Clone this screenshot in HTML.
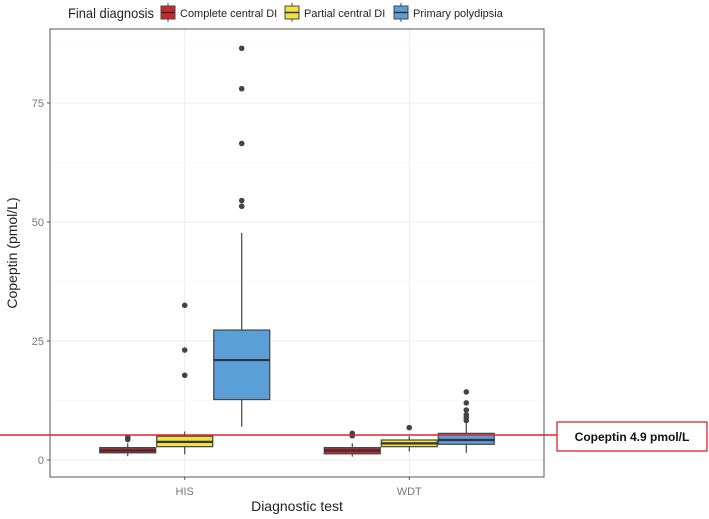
<!DOCTYPE html>
<html><head><meta charset="utf-8"><style>
body{margin:0;background:#fff;width:709px;height:514px;overflow:hidden;font-family:"Liberation Sans",sans-serif}
</style></head><body>
<svg id="c" width="709" height="514" xmlns="http://www.w3.org/2000/svg"></svg>
<script>
const categories=["HIS","WDT"];
const groups=["Complete central DI","Partial central DI","Primary polydipsia"];
const colors=["#c8262b","#efe23a","#5a9fd8"];
const yTicks=[0,25,50,75];
// [low whisker, q1, median, q3, high whisker] per category per group
const hisStats=[[0.8,1.5,2.0,2.6,3.5],[1.2,2.8,3.8,5.0,6.0],[7.0,12.7,21.0,27.3,47.7]];
const wdtStats=[[0.7,1.3,2.0,2.6,3.5],[1.8,2.8,3.5,4.2,5.0],[1.5,3.3,4.2,5.6,7.8]];
const hisOutliers=[[4.3,4.7],[17.8,23.1,32.5],[53.3,54.5,66.5,78,86.5]];
const wdtOutliers=[[5.1,5.6],[6.8],[8.3,8.9,9.5,10.5,12,14.3]];
const stats=[hisStats,wdtStats];
const outliers=[hisOutliers,wdtOutliers];

const NS="http://www.w3.org/2000/svg";
const svg=document.getElementById('c');
const L=50,R=544,T=29,B=477;
const y=v=>460-v*(119/25);
const x=i=>L+(i+1-0.4)*(R-L)/2.2;
const dodge=57,bw=56;
function mk(t,a,p){const e=document.createElementNS(NS,t);for(const k in a)e.setAttribute(k,a[k]);(p||svg).appendChild(e);return e;}

// grid
for(let i=0;i<yTicks.length;i++){
  const g=mk('line',{x1:L,x2:R,y1:y(yTicks[i]),y2:y(yTicks[i]),stroke:'#ebebeb','stroke-width':1});
  
  
  const m=mk('line',{x1:L,x2:R,y1:y(yTicks[i]+12.5),y2:y(yTicks[i]+12.5),stroke:'#f4f4f4','stroke-width':0.6});
  
  
}
categories.forEach((c,i)=>{
  const g=mk('line',{x1:x(i),x2:x(i),y1:T,y2:B,stroke:'#ebebeb','stroke-width':1});
  
  
});

// boxes
categories.forEach((c,i)=>{
  groups.forEach((gname,j)=>{
    const s=stats[i][j];const cx=x(i)+(j-1)*dodge;
    const g=mk('g',{});
    
    
    mk('line',{x1:cx,x2:cx,y1:y(s[0]),y2:y(s[1]),stroke:'#444','stroke-width':1.2},g);
    mk('line',{x1:cx,x2:cx,y1:y(s[3]),y2:y(s[4]),stroke:'#444','stroke-width':1.2},g);
    mk('rect',{x:cx-bw/2,y:y(s[3]),width:bw,height:y(s[1])-y(s[3]),fill:colors[j],stroke:'#444','stroke-width':1.2},g);
    mk('line',{x1:cx-bw/2,x2:cx+bw/2,y1:y(s[2]),y2:y(s[2]),stroke:'#333','stroke-width':2.2},g);
    outliers[i][j].forEach(v=>{
      const p=mk('circle',{cx:cx,cy:y(v),r:2.8,fill:'#444'},g);
      
      
    });
  });
});

// panel border
const pb=mk('rect',{x:L,y:T,width:R-L,height:B-T,fill:'none',stroke:'#555','stroke-width':1});



// ticks
yTicks.forEach(v=>{
  mk('line',{x1:L-3,x2:L,y1:y(v),y2:y(v),stroke:'#555'});
  const t=mk('text',{x:L-6,y:y(v)+4,'text-anchor':'end','font-size':11,fill:'#777'});
  t.textContent=v;
  
  
});
categories.forEach((c,i)=>{
  mk('line',{x1:x(i),x2:x(i),y1:B,y2:B+3,stroke:'#555'});
  const t=mk('text',{x:x(i),y:B+18,'text-anchor':'middle','font-size':11,fill:'#777'});
  t.textContent=c;
  
  
});
const xt=mk('text',{x:(L+R)/2,y:511,'text-anchor':'middle','font-size':14,fill:'#222'});
xt.textContent='Diagnostic test';


const yt=mk('text',{x:0,y:0,'text-anchor':'middle','font-size':14,fill:'#222',transform:'translate(17,253) rotate(-90)'});
yt.textContent='Copeptin (pmol/L)';



// legend
const lt=mk('text',{x:68,y:18,'font-size':14,fill:'#222',textLength:86,lengthAdjust:'spacingAndGlyphs'});
lt.textContent='Final diagnosis';


const lx=[161,285,394],ltx=[180,304,413];
groups.forEach((gname,j)=>{
  const g=mk('g',{});
  
  
  mk('line',{x1:lx[j]+7,x2:lx[j]+7,y1:3,y2:22,stroke:'#444'},g);
  mk('rect',{x:lx[j],y:6,width:14,height:13,fill:colors[j],stroke:'#444'},g);
  mk('line',{x1:lx[j],x2:lx[j]+14,y1:12.5,y2:12.5,stroke:'#333','stroke-width':1.5},g);
  const t=mk('text',{x:ltx[j],y:17,'font-size':11,fill:'#222'},g);
  t.textContent=gname;
});

// cutoff annotation
const rl=mk('line',{x1:0,x2:557,y1:435,y2:435,stroke:'#d9262c','stroke-width':1.5});


const ab=mk('rect',{x:557,y:422,width:150,height:29,fill:'#fff',stroke:'#d9262c','stroke-width':1.3});


const at=mk('text',{x:632,y:441,'text-anchor':'middle','font-size':12,'font-weight':'bold',fill:'#111'});
at.textContent='Copeptin 4.9 pmol/L';


</script>
</body></html>
